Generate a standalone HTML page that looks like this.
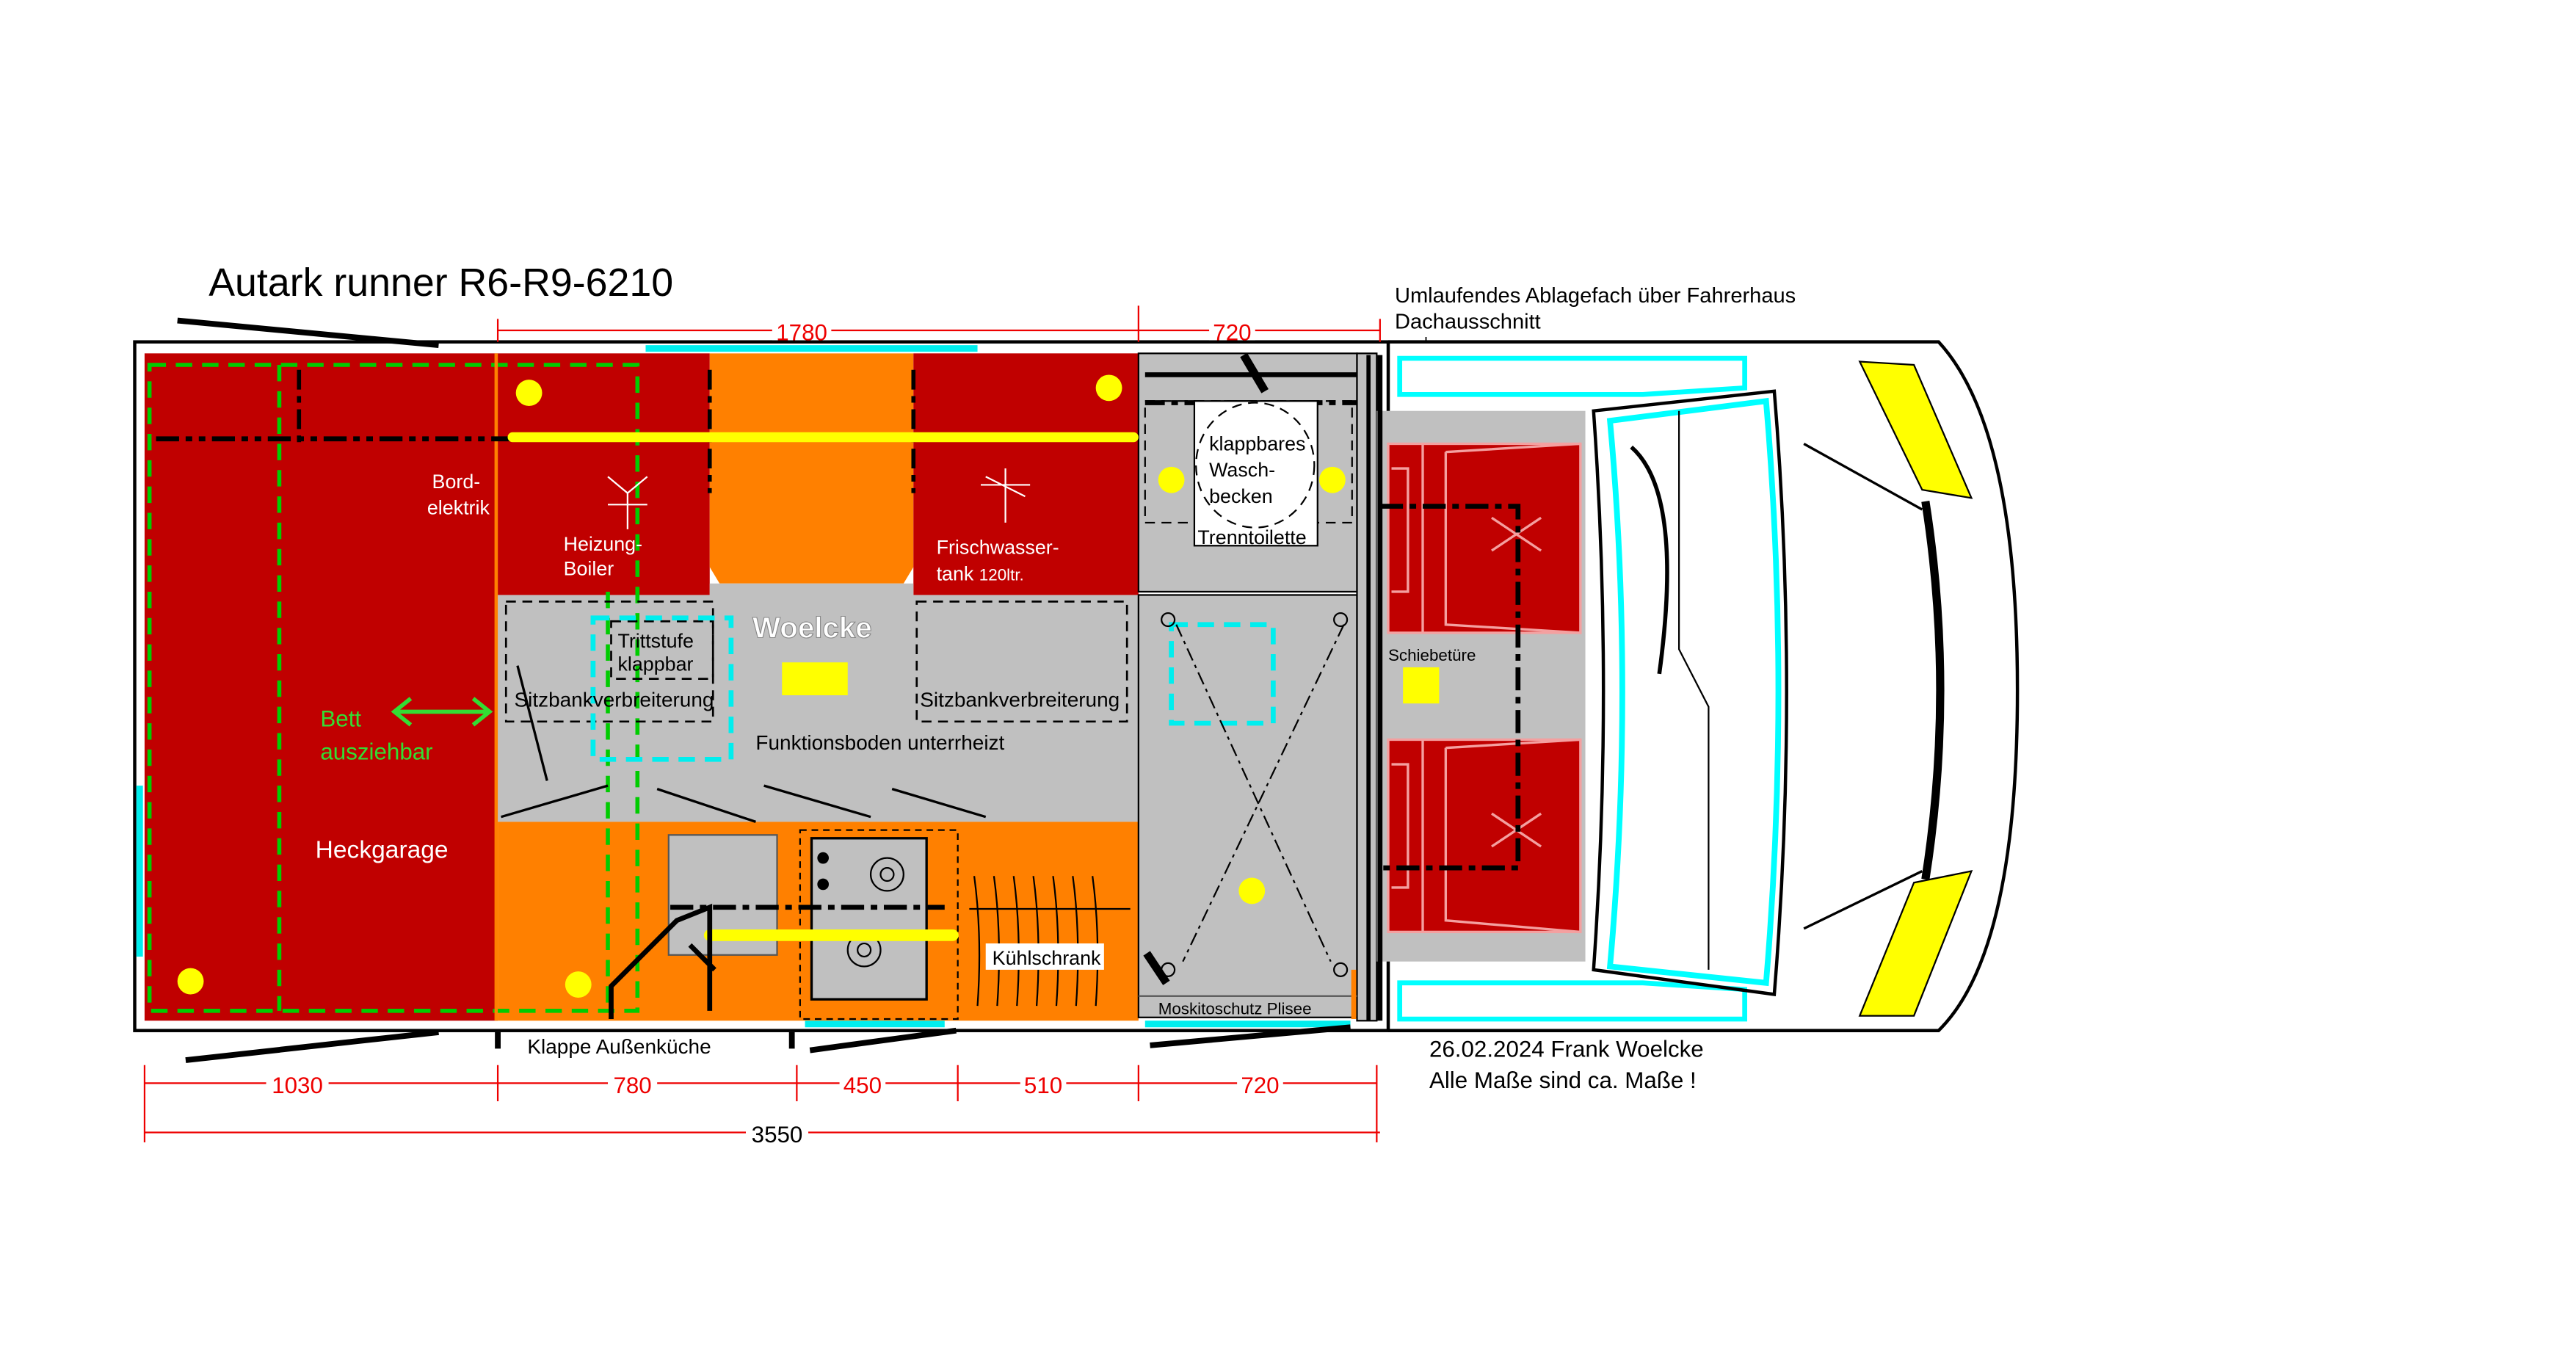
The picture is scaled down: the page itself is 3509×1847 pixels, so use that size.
<!DOCTYPE html>
<html><head><meta charset="utf-8"><style>html,body{margin:0;padding:0;background:#fff}svg{display:block}</style></head>
<body>
<svg width="3509" height="1847" viewBox="0 0 1568 825" preserveAspectRatio="none" xmlns="http://www.w3.org/2000/svg" font-family="Liberation Sans, sans-serif">
<rect width="1600" height="850" fill="#fff"/>
<text x="127" y="180" font-size="24" fill="#000">Autark runner R6-R9-6210</text>
<text x="849" y="184" font-size="13">Umlaufendes Ablagefach über Fahrerhaus</text>
<text x="849" y="200" font-size="13">Dachausschnitt</text>
<line x1="868" y1="205" x2="868" y2="270" stroke="#000" stroke-width="0.8"/>
<path d="M845,208 L1180,208 Q1228,260 1228,420 Q1228,580 1180,627 L845,627" fill="#fff" stroke="#000" stroke-width="2"/>
<rect x="82" y="208" width="763" height="419" fill="#fff" stroke="#000" stroke-width="2"/>
<rect x="88" y="215" width="215" height="406" fill="#c00000"/>
<rect x="303" y="215" width="129" height="147" fill="#c00000"/>
<path d="M432,215 L556,215 L556,345 L550,355 L438,355 L432,345 Z" fill="#ff8000"/>
<rect x="556" y="215" width="137" height="147" fill="#c00000"/>
<rect x="303" y="362" width="390" height="138" fill="#c0c0c0"/>
<rect x="432" y="355" width="124" height="8" fill="#c0c0c0"/>
<rect x="303" y="500" width="390" height="121" fill="#ff8000"/>
<rect x="693" y="215" width="133" height="145" fill="#c0c0c0" stroke="#000"/>
<rect x="693" y="362" width="133" height="257" fill="#c0c0c0" stroke="#000"/>
<rect x="826" y="215" width="12" height="406" fill="#c0c0c0" stroke="#000"/>
<rect x="838" y="250" width="127" height="335" fill="#c0c0c0"/>
<g fill="#c00000" stroke="#f4a0a0" stroke-width="1.5">
<rect x="845" y="270" width="117" height="115"/>
<rect x="845" y="450" width="117" height="117"/>
</g>
<g fill="none" stroke="#f4a0a0" stroke-width="1.5">
<path d="M866,270 V385 M880,275 L962,270 M880,275 V380 L962,385 M847,285 h10 v75 h-10"/>
<path d="M866,450 V567 M880,455 L962,450 M880,455 V560 L962,567 M847,465 h10 v75 h-10"/>
</g>
<g stroke="#f4a0a0" stroke-width="1.5"><path d="M908,315 l30,20 M908,335 l30,-20 M908,495 l30,20 M908,515 l30,-20"/></g>
<path d="M840,308 H924 V528 H840" fill="none" stroke="#000" stroke-width="3" stroke-dasharray="14,4,4,4"/>
<rect x="854" y="406" width="22" height="22" fill="#ff0"/>
<text x="845" y="402" font-size="10">Schiebetüre</text>
<path d="M852,218 H1062 V236 L1000,240 H852 Z M852,598 H1000 L1062,602 V620 H852 Z" fill="none" stroke="#0ff" stroke-width="3"/>
<path d="M970,250 L1080,238 Q1095,420 1080,605 L970,590 Q982,420 970,250 Z" fill="none" stroke="#000" stroke-width="2"/>
<path d="M980,256 L1075,244 Q1090,420 1075,598 L980,588 Q995,420 980,256 Z" fill="none" stroke="#0ff" stroke-width="3.5"/>
<path d="M993,272 Q1025,300 1010,410" fill="none" stroke="#000" stroke-width="2.5"/>
<path d="M1022,250 V395 L1040,430 V590" fill="none" stroke="#000" stroke-width="1"/>
<path d="M1098,270 L1170,310 M1098,565 L1170,530" stroke="#000" stroke-width="1.5"/>
<path d="M1172,305 Q1190,420 1172,535" fill="none" stroke="#000" stroke-width="5"/>
<path d="M1132,220 L1165,222 L1200,303 L1170,298 Z M1165,537 L1200,530 L1165,618 L1132,618 Z" fill="#ff0" stroke="#000" stroke-width="1"/>
<g fill="none" stroke="#0c0" stroke-width="2.5" stroke-dasharray="10,6">
<rect x="91" y="222" width="297" height="393"/>
<line x1="170" y1="222" x2="170" y2="615"/>
<line x1="370" y1="360" x2="370" y2="615"/>
</g>
<path d="M240,433 H298 M250,425 L240,433 L250,441 M288,425 L298,433 L288,441" fill="none" stroke="#3d3" stroke-width="2.5"/>
<text x="195" y="442" font-size="14" fill="#3d3">Bett</text>
<text x="195" y="462" font-size="14" fill="#3d3">ausziehbar</text>
<text x="192" y="522" font-size="15" fill="#fff">Heckgarage</text>
<text x="263" y="297" font-size="12" fill="#fff">Bord-</text>
<text x="260" y="313" font-size="12" fill="#fff">elektrik</text>
<line x1="302" y1="215" x2="302" y2="621" stroke="#ff8000" stroke-width="2"/>
<path d="M95,267 H690" stroke="#000" stroke-width="3" stroke-dasharray="14,4,4,4,4,4"/>
<path d="M182,225 V270 M432,225 V300 M556,225 V300" stroke="#000" stroke-width="2.5" stroke-dasharray="12,4,4,4"/>
<line x1="312" y1="266" x2="690" y2="266" stroke="#ff0" stroke-width="6" stroke-linecap="round"/>
<g fill="#ff0"><ellipse cx="322" cy="239" rx="8" ry="8"/><ellipse cx="675" cy="236" rx="8" ry="8"/><ellipse cx="713" cy="292" rx="8" ry="8"/><ellipse cx="811" cy="292" rx="8" ry="8"/><ellipse cx="116" cy="597" rx="8" ry="8"/><ellipse cx="352" cy="599" rx="8" ry="8"/><ellipse cx="762" cy="542" rx="8" ry="8"/></g>
<path d="M370,290 l12,10 l12,-10 M382,300 V322 M370,307 l24,0" stroke="#fff" fill="none"/>
<path d="M597,295 l30,0 M612,285 V318 M600,290 l24,12" stroke="#fff" fill="none"/>
<text x="343" y="335" font-size="12" fill="#fff">Heizung-</text>
<text x="343" y="350" font-size="12" fill="#fff">Boiler</text>
<text x="570" y="337" font-size="12" fill="#fff">Frischwasser-</text>
<text x="570" y="353" font-size="12" fill="#fff">tank <tspan font-size="10">120ltr.</tspan></text>
<g fill="none" stroke="#000" stroke-width="1.2" stroke-dasharray="6,4">
<rect x="308" y="366" width="126" height="73"/><rect x="558" y="366" width="128" height="73"/>
<rect x="372" y="378" width="62" height="35"/>
</g>
<rect x="361" y="376" width="84" height="86" fill="none" stroke="#0ee" stroke-width="3" stroke-dasharray="10,6"/>
<rect x="713" y="380" width="62" height="60" fill="none" stroke="#0ee" stroke-width="3" stroke-dasharray="10,6"/>
<text x="376" y="394" font-size="12">Trittstufe</text>
<text x="376" y="408" font-size="12">klappbar</text>
<text x="458" y="388" font-size="18" font-weight="bold" fill="#fff" stroke="#888" stroke-width="0.5">Woelcke</text>
<rect x="476" y="403" width="40" height="20" fill="#ff0"/>
<text x="313" y="430" font-size="12.5">Sitzbankverbreiterung</text>
<text x="560" y="430" font-size="12.5">Sitzbankverbreiterung</text>
<text x="460" y="456" font-size="12.5">Funktionsboden unterrheizt</text>
<path d="M315,405 L333,475 M305,497 L370,478 M400,480 L460,500 M465,478 L530,497 M543,480 L600,497" stroke="#000" stroke-width="1.5"/>
<rect x="407" y="508" width="66" height="73" fill="#c0c0c0" stroke="#555"/>
<rect x="487" y="505" width="96" height="115" fill="none" stroke="#000" stroke-dasharray="4,3"/>
<rect x="494" y="510" width="70" height="98" fill="#c0c0c0" stroke="#000" stroke-width="1.5"/>
<circle cx="540" cy="532" r="10" fill="none" stroke="#000"/><circle cx="540" cy="532" r="4" fill="none" stroke="#000"/>
<circle cx="526" cy="578" r="10" fill="none" stroke="#000"/><circle cx="526" cy="578" r="4" fill="none" stroke="#000"/>
<circle cx="501" cy="522" r="3.5"/><circle cx="501" cy="538" r="3.5"/>
<path d="M593,533 Q598,570 595,612 M605,533 Q610,570 607,612 M617,533 Q622,570 619,612 M629,533 Q634,570 631,612 M641,533 Q646,570 643,612 M653,533 Q658,570 655,612 M665,533 Q670,570 667,612 M590,553 H688" stroke="#000" fill="none"/>
<rect x="600" y="574" width="72" height="16" fill="#fff"/>
<text x="604" y="587" font-size="12">Kühlschrank</text>
<path d="M408,552 H575" stroke="#000" stroke-width="3" stroke-dasharray="14,4,4,4"/>
<line x1="432" y1="569" x2="580" y2="569" stroke="#ff0" stroke-width="7" stroke-linecap="round"/>
<path d="M372,620 V600 L412,560 L432,552 V615 M420,575 L435,590" stroke="#000" stroke-width="3" fill="none"/>
<path d="M697,228 H826" stroke="#000" stroke-width="3"/>
<path d="M757,216 L770,238" stroke="#000" stroke-width="5"/>
<path d="M697,245 H826" stroke="#000" stroke-width="3" stroke-dasharray="12,4,4,4"/>
<rect x="697" y="244" width="126" height="74" fill="none" stroke="#000" stroke-dasharray="6,4"/>
<rect x="727" y="244" width="75" height="88" fill="#fff" stroke="#000"/>
<ellipse cx="764" cy="283" rx="36" ry="38" fill="none" stroke="#000" stroke-dasharray="6,4"/>
<text x="736" y="274" font-size="12">klappbares</text>
<text x="736" y="290" font-size="12">Wasch-</text>
<text x="736" y="306" font-size="12">becken</text>
<text x="729" y="331" font-size="12">Trenntoilette</text>
<path d="M716,380 L810,585 M818,380 L720,585" stroke="#000" stroke-dasharray="8,3,2,3" fill="none"/>
<g fill="none" stroke="#000"><circle cx="711" cy="377" r="4"/><circle cx="816" cy="377" r="4"/><circle cx="711" cy="590" r="4"/><circle cx="816" cy="590" r="4"/></g>
<path d="M698,580 L710,598" stroke="#000" stroke-width="5"/>
<line x1="693" y1="606" x2="826" y2="606" stroke="#555"/>
<text x="705" y="617" font-size="10">Moskitoschutz Plisee</text>
<line x1="824" y1="590" x2="824" y2="620" stroke="#ff8000" stroke-width="3"/>
<line x1="833" y1="216" x2="833" y2="621" stroke="#000" stroke-width="2.5"/>
<line x1="840" y1="216" x2="840" y2="621" stroke="#000" stroke-width="3"/>
<g stroke="#0ee" stroke-width="4"><line x1="393" y1="212" x2="595" y2="212"/><line x1="85" y1="478" x2="85" y2="582"/><line x1="490" y1="623" x2="575" y2="623"/><line x1="697" y1="623" x2="822" y2="623"/></g>
<g stroke="#000" stroke-width="3.5"><line x1="108" y1="195" x2="267" y2="210"/><line x1="113" y1="645" x2="267" y2="628"/><line x1="493" y1="639" x2="582" y2="627"/><line x1="700" y1="636" x2="822" y2="625"/><line x1="303" y1="628" x2="303" y2="638"/><line x1="482" y1="628" x2="482" y2="638"/></g>
<text x="321" y="641" font-size="12.5">Klappe Außenküche</text>
<text x="870" y="643" font-size="14">26.02.2024 Frank Woelcke</text>
<text x="870" y="662" font-size="14">Alle Maße sind ca. Maße !</text>
<g stroke="#e00" stroke-width="1" fill="none">
<line x1="303" y1="201" x2="840" y2="201"/><path d="M303,194 V208 M693,186 V208 M840,194 V208"/>
<line x1="88" y1="659" x2="838" y2="659"/><path d="M88,648 V695 M303,648 V670 M485,648 V670 M583,648 V670 M693,648 V670 M838,648 V695"/>
<line x1="88" y1="689" x2="840" y2="689"/>
</g>
<g font-size="14" fill="#e00" text-anchor="middle">
<rect x="470" y="193" width="36" height="14" fill="#fff"/><text x="488" y="207">1780</text>
<rect x="736" y="193" width="28" height="14" fill="#fff"/><text x="750" y="207">720</text>
<rect x="162" y="652" width="38" height="14" fill="#fff"/><text x="181" y="665">1030</text>
<rect x="370" y="652" width="30" height="14" fill="#fff"/><text x="385" y="665">780</text>
<rect x="511" y="652" width="28" height="14" fill="#fff"/><text x="525" y="665">450</text>
<rect x="621" y="652" width="28" height="14" fill="#fff"/><text x="635" y="665">510</text>
<rect x="753" y="652" width="28" height="14" fill="#fff"/><text x="767" y="665">720</text>
<rect x="454" y="682" width="38" height="14" fill="#fff"/><text x="473" y="695" fill="#000">3550</text>
</g>
</svg>
</body></html>
